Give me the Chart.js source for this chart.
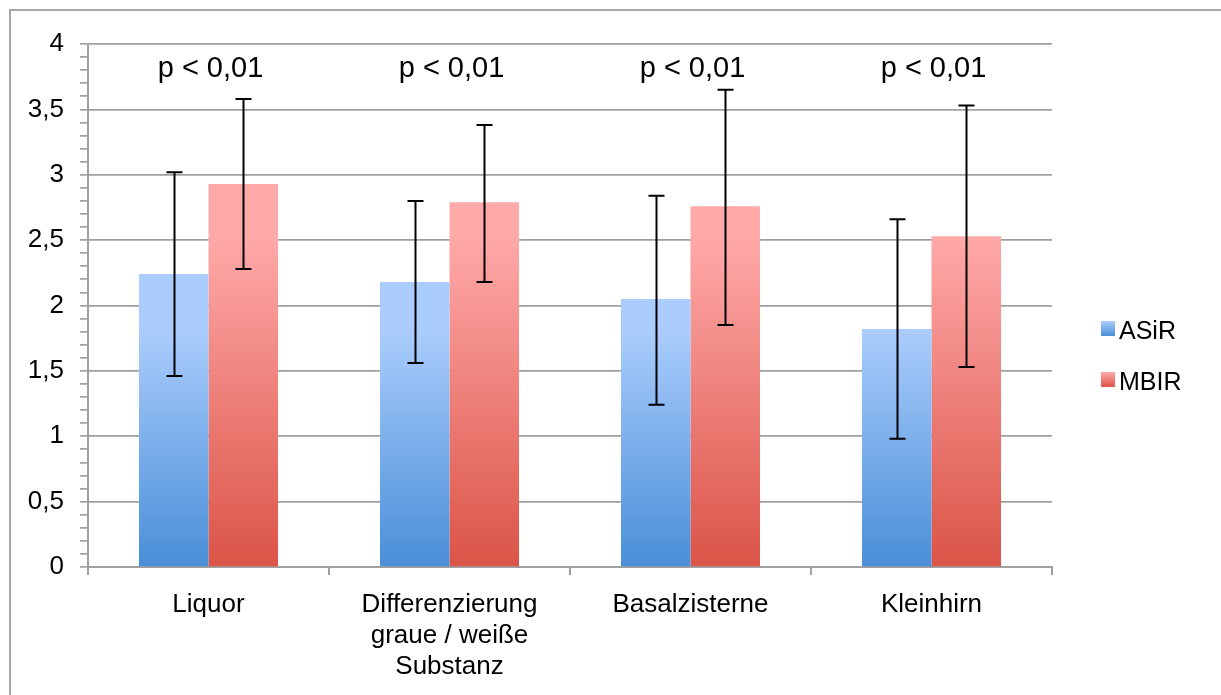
<!DOCTYPE html>
<html>
<head>
<meta charset="utf-8">
<script src="https://cdn.jsdelivr.net/npm/chart.js@4.4.1/dist/chart.umd.min.js"></script>
<style>
  body { margin: 0; background: #fff; }
  canvas { display: block; }
</style>
</head>
<body>
<canvas id="myChart" width="1221" height="695"></canvas>
<script>
// data
var categories = [["Liquor"], ["Differenzierung", "graue / weiße", "Substanz"], ["Basalzisterne"], ["Kleinhirn"]];
var series_names = ["ASiR", "MBIR"];

var asir_values   = [2.24, 2.18, 2.05, 1.82];
var asir_err_high = [3.02, 2.80, 2.84, 2.66];
var asir_err_low  = [1.46, 1.56, 1.24, 0.98];

var mbir_values   = [2.93, 2.79, 2.76, 2.53];
var mbir_err_high = [3.58, 3.38, 3.65, 3.53];
var mbir_err_low  = [2.28, 2.18, 1.85, 1.53];

var p_labels = ["p < 0,01", "p < 0,01", "p < 0,01", "p < 0,01"];
var y_tick_labels = ["0", "0,5", "1", "1,5", "2", "2,5", "3", "3,5", "4"];

var font_family = "'Liberation Sans', Arial, Helvetica, sans-serif";
var grid_grey = "#a0a0a0";

// top / bottom colours of the bar gradients
var bar_colors = [["#abcdfd", "#4a8fd8"], ["#ffa9a9", "#db5447"]];

function barGradient(ctx, top, bottom, cols) {
    var g = ctx.createLinearGradient(0, top, 0, bottom);
    g.addColorStop(0, cols[0]);
    g.addColorStop(1, cols[1]);
    return g;
}

// outer frame around the whole picture
var framePlugin = {
    id: "frame",
    beforeDraw: function(chart) {
        var ctx = chart.ctx;
        ctx.save();
        ctx.strokeStyle = "#a8a8a8";
        ctx.lineWidth = 2;
        ctx.strokeRect(10, 10, 1400, 1000);
        ctx.restore();
    }
};

// each bar gets its own vertical gradient
var gradientPlugin = {
    id: "gradients",
    beforeDatasetsDraw: function(chart) {
        var ctx = chart.ctx;
        chart.data.datasets.forEach(function(ds, d) {
            var meta = chart.getDatasetMeta(d);
            meta.data.forEach(function(bar) {
                bar.options.backgroundColor = barGradient(ctx, bar.y, bar.base, bar_colors[d]);
            });
        });
    }
};

// error bars + p-value labels + legend
var extrasPlugin = {
    id: "extras",
    afterDatasetsDraw: function(chart) {
        var ctx = chart.ctx;
        var yScale = chart.scales.y;
        ctx.save();
        ctx.strokeStyle = "#000";
        ctx.lineWidth = 2;
        chart.data.datasets.forEach(function(ds, d) {
            var meta = chart.getDatasetMeta(d);
            meta.data.forEach(function(bar, i) {
                var x = Math.round(bar.x) + 0.5;
                var yh = yScale.getPixelForValue(ds.errHigh[i]);
                var yl = yScale.getPixelForValue(ds.errLow[i]);
                ctx.beginPath();
                ctx.moveTo(x, yh);
                ctx.lineTo(x, yl);
                ctx.moveTo(x - 8, yh);
                ctx.lineTo(x + 8, yh);
                ctx.moveTo(x - 8, yl);
                ctx.lineTo(x + 8, yl);
                ctx.stroke();
            });
        });
        ctx.restore();
    },
    afterDraw: function(chart) {
        var ctx = chart.ctx;
        var xScale = chart.scales.x;
        ctx.save();
        ctx.fillStyle = "#000";
        ctx.font = "29px " + font_family;
        ctx.textAlign = "center";
        ctx.textBaseline = "alphabetic";
        for (var i = 0; i < p_labels.length; i++) {
            ctx.fillText(p_labels[i], xScale.getPixelForValue(i) + 2, chart.chartArea.top + 33);
        }

        // legend
        ctx.font = "25px " + font_family;
        ctx.textAlign = "left";
        chart.data.datasets.forEach(function(ds, d) {
            var top = 321 + d * 51;
            ctx.fillStyle = barGradient(ctx, top, top + 15, bar_colors[d]);
            ctx.fillRect(1101, top, 14, 15);
            ctx.fillStyle = "#000";
            ctx.fillText(ds.label, 1119, top + 18);
        });
        ctx.restore();
    }
};

var canvas = document.getElementById("myChart").getContext("2d");

var dts = [
    { label: series_names[0], data: asir_values, errHigh: asir_err_high, errLow: asir_err_low, backgroundColor: bar_colors[0][1] },
    { label: series_names[1], data: mbir_values, errHigh: mbir_err_high, errLow: mbir_err_low, backgroundColor: bar_colors[1][1] }
];

var chart = new Chart(canvas, {
    type: "bar",
    data: { labels: categories, datasets: dts },
    plugins: [framePlugin, gradientPlugin, extrasPlugin],
    options: {
        responsive: false,
        animation: false,
        layout: { padding: { left: 10, right: 169, top: 44, bottom: 0 } },
        datasets: { bar: { categoryPercentage: 0.577, barPercentage: 1.0, borderWidth: 0 } },
        plugins: { legend: { display: false }, tooltip: { enabled: false } },
        scales: {
            x: {
                afterFit: function(scale) { scale.height = 128; },
                grid: { offset: true, drawOnChartArea: false, color: grid_grey, tickLength: 8, lineWidth: 2 },
                border: { color: grid_grey, width: 2 },
                ticks: { color: "#000", font: { family: font_family, size: 26 }, padding: 14, maxRotation: 0, autoSkip: false }
            },
            y: {
                min: 0,
                max: 4,
                afterFit: function(scale) { scale.width = 78; },
                grid: {
                    color: function(c) {
                        var v = c.tick ? c.tick.value : 0;
                        return Math.abs(v * 2 - Math.round(v * 2)) < 1e-6 ? grid_grey : "rgba(0,0,0,0)";
                    },
                    tickColor: grid_grey,
                    tickLength: 8,
                    lineWidth: 1.7
                },
                border: { color: grid_grey, width: 2 },
                ticks: {
                    stepSize: 0.1,
                    autoSkip: false,
                    color: "#000",
                    padding: 16,
                    font: { family: font_family, size: 26 },
                    callback: function(v) {
                        if (Math.abs(v * 2 - Math.round(v * 2)) < 1e-6) return y_tick_labels[Math.round(v * 2)];
                        return "";
                    }
                }
            }
        }
    }
});
</script>
</body>
</html>
